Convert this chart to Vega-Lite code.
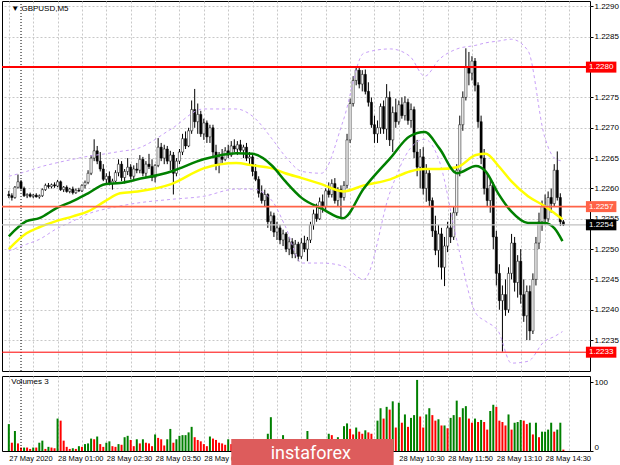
{
"$schema": "https://vega.github.io/schema/vega-lite/v6.json",
"padding": 0,
"background": "#ffffff",
"spacing": 3,
"resolve": {"scale": {"color": "independent", "stroke": "independent", "strokeWidth": "independent"}},
"config": {"view": {"stroke": "#000000", "strokeWidth": 1}, "font": "Liberation Sans"},
"datasets": {
"bars": [
{"i":0,"o":1.22590,"h":1.22596,"l":1.22584,"c":1.22588,"v":39,"d":"g"},
{"i":1,"o":1.22588,"h":1.22592,"l":1.22580,"c":1.22585,"v":12,"d":"r"},
{"i":2,"o":1.22585,"h":1.22604,"l":1.22583,"c":1.22602,"v":29,"d":"g"},
{"i":3,"o":1.22602,"h":1.22623,"l":1.22600,"c":1.22611,"v":11,"d":"r"},
{"i":4,"o":1.22611,"h":1.22614,"l":1.22598,"c":1.22600,"v":5,"d":"r"},
{"i":5,"o":1.22600,"h":1.22603,"l":1.22586,"c":1.22588,"v":5,"d":"g"},
{"i":6,"o":1.22588,"h":1.22592,"l":1.22584,"c":1.22590,"v":5,"d":"r"},
{"i":7,"o":1.22590,"h":1.22593,"l":1.22585,"c":1.22587,"v":3,"d":"r"},
{"i":8,"o":1.22587,"h":1.22591,"l":1.22584,"c":1.22589,"v":5,"d":"g"},
{"i":9,"o":1.22589,"h":1.22592,"l":1.22585,"c":1.22586,"v":5,"d":"r"},
{"i":10,"o":1.22586,"h":1.22590,"l":1.22583,"c":1.22588,"v":12,"d":"g"},
{"i":11,"o":1.22588,"h":1.22600,"l":1.22586,"c":1.22598,"v":15,"d":"g"},
{"i":12,"o":1.22598,"h":1.22608,"l":1.22596,"c":1.22605,"v":3,"d":"r"},
{"i":13,"o":1.22605,"h":1.22609,"l":1.22600,"c":1.22603,"v":6,"d":"g"},
{"i":14,"o":1.22603,"h":1.22608,"l":1.22600,"c":1.22606,"v":5,"d":"r"},
{"i":15,"o":1.22606,"h":1.22610,"l":1.22601,"c":1.22604,"v":4,"d":"r"},
{"i":16,"o":1.22604,"h":1.22614,"l":1.22602,"c":1.22611,"v":47,"d":"g"},
{"i":17,"o":1.22611,"h":1.22613,"l":1.22596,"c":1.22598,"v":44,"d":"r"},
{"i":18,"o":1.22598,"h":1.22604,"l":1.22594,"c":1.22602,"v":15,"d":"r"},
{"i":19,"o":1.22602,"h":1.22605,"l":1.22593,"c":1.22595,"v":6,"d":"r"},
{"i":20,"o":1.22595,"h":1.22601,"l":1.22592,"c":1.22599,"v":3,"d":"r"},
{"i":21,"o":1.22599,"h":1.22603,"l":1.22590,"c":1.22593,"v":4,"d":"g"},
{"i":22,"o":1.22593,"h":1.22600,"l":1.22591,"c":1.22597,"v":3,"d":"r"},
{"i":23,"o":1.22597,"h":1.22601,"l":1.22594,"c":1.22596,"v":7,"d":"g"},
{"i":24,"o":1.22596,"h":1.22607,"l":1.22594,"c":1.22605,"v":6,"d":"r"},
{"i":25,"o":1.22605,"h":1.22613,"l":1.22600,"c":1.22610,"v":10,"d":"g"},
{"i":26,"o":1.22610,"h":1.22630,"l":1.22607,"c":1.22625,"v":11,"d":"g"},
{"i":27,"o":1.22625,"h":1.22655,"l":1.22622,"c":1.22650,"v":18,"d":"g"},
{"i":28,"o":1.22650,"h":1.22681,"l":1.22645,"c":1.22662,"v":17,"d":"r"},
{"i":29,"o":1.22662,"h":1.22670,"l":1.22640,"c":1.22645,"v":21,"d":"g"},
{"i":30,"o":1.22645,"h":1.22660,"l":1.22628,"c":1.22632,"v":10,"d":"r"},
{"i":31,"o":1.22632,"h":1.22640,"l":1.22612,"c":1.22615,"v":6,"d":"r"},
{"i":32,"o":1.22615,"h":1.22625,"l":1.22606,"c":1.22620,"v":12,"d":"g"},
{"i":33,"o":1.22620,"h":1.22628,"l":1.22605,"c":1.22608,"v":14,"d":"g"},
{"i":34,"o":1.22608,"h":1.22616,"l":1.22598,"c":1.22612,"v":7,"d":"r"},
{"i":35,"o":1.22612,"h":1.22630,"l":1.22610,"c":1.22626,"v":6,"d":"r"},
{"i":36,"o":1.22626,"h":1.22648,"l":1.22620,"c":1.22640,"v":10,"d":"g"},
{"i":37,"o":1.22640,"h":1.22645,"l":1.22612,"c":1.22618,"v":9,"d":"r"},
{"i":38,"o":1.22618,"h":1.22632,"l":1.22608,"c":1.22628,"v":20,"d":"g"},
{"i":39,"o":1.22628,"h":1.22650,"l":1.22622,"c":1.22635,"v":22,"d":"g"},
{"i":40,"o":1.22635,"h":1.22640,"l":1.22615,"c":1.22620,"v":16,"d":"r"},
{"i":41,"o":1.22620,"h":1.22638,"l":1.22612,"c":1.22632,"v":7,"d":"r"},
{"i":42,"o":1.22632,"h":1.22642,"l":1.22625,"c":1.22630,"v":17,"d":"g"},
{"i":43,"o":1.22630,"h":1.22655,"l":1.22625,"c":1.22648,"v":11,"d":"r"},
{"i":44,"o":1.22648,"h":1.22652,"l":1.22620,"c":1.22625,"v":17,"d":"g"},
{"i":45,"o":1.22625,"h":1.22645,"l":1.22618,"c":1.22640,"v":12,"d":"r"},
{"i":46,"o":1.22640,"h":1.22657,"l":1.22632,"c":1.22636,"v":11,"d":"r"},
{"i":47,"o":1.22636,"h":1.22648,"l":1.22612,"c":1.22618,"v":7,"d":"r"},
{"i":48,"o":1.22618,"h":1.22640,"l":1.22610,"c":1.22638,"v":24,"d":"g"},
{"i":49,"o":1.22638,"h":1.22683,"l":1.22635,"c":1.22668,"v":19,"d":"r"},
{"i":50,"o":1.22668,"h":1.22675,"l":1.22645,"c":1.22650,"v":17,"d":"r"},
{"i":51,"o":1.22650,"h":1.22672,"l":1.22640,"c":1.22665,"v":8,"d":"r"},
{"i":52,"o":1.22665,"h":1.22670,"l":1.22640,"c":1.22645,"v":17,"d":"g"},
{"i":53,"o":1.22645,"h":1.22662,"l":1.22630,"c":1.22655,"v":32,"d":"g"},
{"i":54,"o":1.22655,"h":1.22660,"l":1.22590,"c":1.22625,"v":12,"d":"r"},
{"i":55,"o":1.22625,"h":1.22650,"l":1.22620,"c":1.22645,"v":17,"d":"g"},
{"i":56,"o":1.22645,"h":1.22665,"l":1.22640,"c":1.22660,"v":22,"d":"g"},
{"i":57,"o":1.22660,"h":1.22690,"l":1.22655,"c":1.22682,"v":23,"d":"g"},
{"i":58,"o":1.22682,"h":1.22694,"l":1.22665,"c":1.22670,"v":23,"d":"g"},
{"i":59,"o":1.22670,"h":1.22700,"l":1.22668,"c":1.22695,"v":27,"d":"g"},
{"i":60,"o":1.22695,"h":1.22745,"l":1.22690,"c":1.22730,"v":35,"d":"g"},
{"i":61,"o":1.22730,"h":1.22764,"l":1.22700,"c":1.22710,"v":20,"d":"r"},
{"i":62,"o":1.22710,"h":1.22740,"l":1.22690,"c":1.22722,"v":16,"d":"r"},
{"i":63,"o":1.22722,"h":1.22728,"l":1.22685,"c":1.22690,"v":14,"d":"r"},
{"i":64,"o":1.22690,"h":1.22715,"l":1.22680,"c":1.22708,"v":10,"d":"r"},
{"i":65,"o":1.22708,"h":1.22712,"l":1.22675,"c":1.22685,"v":7,"d":"r"},
{"i":66,"o":1.22685,"h":1.22705,"l":1.22675,"c":1.22700,"v":21,"d":"g"},
{"i":67,"o":1.22700,"h":1.22705,"l":1.22650,"c":1.22660,"v":18,"d":"r"},
{"i":68,"o":1.22660,"h":1.22672,"l":1.22630,"c":1.22640,"v":16,"d":"r"},
{"i":69,"o":1.22640,"h":1.22660,"l":1.22625,"c":1.22652,"v":12,"d":"r"},
{"i":70,"o":1.22652,"h":1.22665,"l":1.22640,"c":1.22648,"v":11,"d":"r"},
{"i":71,"o":1.22648,"h":1.22668,"l":1.22645,"c":1.22662,"v":9,"d":"r"},
{"i":72,"o":1.22662,"h":1.22672,"l":1.22650,"c":1.22655,"v":17,"d":"g"},
{"i":73,"o":1.22655,"h":1.22678,"l":1.22652,"c":1.22670,"v":10,"d":"r"},
{"i":74,"o":1.22670,"h":1.22681,"l":1.22660,"c":1.22665,"v":14,"d":"g"},
{"i":75,"o":1.22665,"h":1.22678,"l":1.22655,"c":1.22672,"v":8,"d":"r"},
{"i":76,"o":1.22672,"h":1.22680,"l":1.22660,"c":1.22663,"v":12,"d":"g"},
{"i":77,"o":1.22663,"h":1.22672,"l":1.22650,"c":1.22668,"v":9,"d":"r"},
{"i":78,"o":1.22668,"h":1.22675,"l":1.22645,"c":1.22650,"v":13,"d":"g"},
{"i":79,"o":1.22650,"h":1.22660,"l":1.22640,"c":1.22652,"v":7,"d":"r"},
{"i":80,"o":1.22652,"h":1.22655,"l":1.22620,"c":1.22628,"v":11,"d":"g"},
{"i":81,"o":1.22628,"h":1.22640,"l":1.22612,"c":1.22615,"v":9,"d":"r"},
{"i":82,"o":1.22615,"h":1.22620,"l":1.22585,"c":1.22592,"v":15,"d":"g"},
{"i":83,"o":1.22592,"h":1.22605,"l":1.22575,"c":1.22580,"v":12,"d":"r"},
{"i":84,"o":1.22580,"h":1.22598,"l":1.22570,"c":1.22590,"v":14,"d":"g"},
{"i":85,"o":1.22590,"h":1.22592,"l":1.22535,"c":1.22545,"v":25,"d":"g"},
{"i":86,"o":1.22545,"h":1.22562,"l":1.22530,"c":1.22555,"v":49,"d":"g"},
{"i":87,"o":1.22555,"h":1.22560,"l":1.22520,"c":1.22528,"v":15,"d":"r"},
{"i":88,"o":1.22528,"h":1.22545,"l":1.22515,"c":1.22535,"v":12,"d":"r"},
{"i":89,"o":1.22535,"h":1.22540,"l":1.22508,"c":1.22515,"v":10,"d":"r"},
{"i":90,"o":1.22515,"h":1.22532,"l":1.22505,"c":1.22525,"v":23,"d":"g"},
{"i":91,"o":1.22525,"h":1.22528,"l":1.22495,"c":1.22500,"v":14,"d":"r"},
{"i":92,"o":1.22500,"h":1.22520,"l":1.22490,"c":1.22512,"v":11,"d":"r"},
{"i":93,"o":1.22512,"h":1.22518,"l":1.22485,"c":1.22492,"v":13,"d":"g"},
{"i":94,"o":1.22492,"h":1.22515,"l":1.22485,"c":1.22508,"v":9,"d":"r"},
{"i":95,"o":1.22508,"h":1.22512,"l":1.22480,"c":1.22488,"v":12,"d":"g"},
{"i":96,"o":1.22488,"h":1.22518,"l":1.22484,"c":1.22510,"v":10,"d":"r"},
{"i":97,"o":1.22510,"h":1.22522,"l":1.22495,"c":1.22500,"v":14,"d":"g"},
{"i":98,"o":1.22500,"h":1.22520,"l":1.22480,"c":1.22515,"v":29,"d":"g"},
{"i":99,"o":1.22515,"h":1.22545,"l":1.22510,"c":1.22540,"v":12,"d":"r"},
{"i":100,"o":1.22540,"h":1.22565,"l":1.22532,"c":1.22558,"v":15,"d":"g"},
{"i":101,"o":1.22558,"h":1.22575,"l":1.22545,"c":1.22550,"v":10,"d":"r"},
{"i":102,"o":1.22550,"h":1.22585,"l":1.22548,"c":1.22578,"v":14,"d":"g"},
{"i":103,"o":1.22578,"h":1.22590,"l":1.22560,"c":1.22570,"v":11,"d":"r"},
{"i":104,"o":1.22570,"h":1.22600,"l":1.22565,"c":1.22596,"v":13,"d":"g"},
{"i":105,"o":1.22596,"h":1.22610,"l":1.22585,"c":1.22590,"v":25,"d":"g"},
{"i":106,"o":1.22590,"h":1.22615,"l":1.22585,"c":1.22608,"v":23,"d":"r"},
{"i":107,"o":1.22608,"h":1.22617,"l":1.22575,"c":1.22580,"v":12,"d":"r"},
{"i":108,"o":1.22580,"h":1.22602,"l":1.22570,"c":1.22598,"v":20,"d":"g"},
{"i":109,"o":1.22598,"h":1.22605,"l":1.22551,"c":1.22585,"v":15,"d":"r"},
{"i":110,"o":1.22585,"h":1.22612,"l":1.22580,"c":1.22605,"v":36,"d":"g"},
{"i":111,"o":1.22605,"h":1.22690,"l":1.22600,"c":1.22680,"v":40,"d":"g"},
{"i":112,"o":1.22680,"h":1.22748,"l":1.22675,"c":1.22740,"v":32,"d":"r"},
{"i":113,"o":1.22740,"h":1.22785,"l":1.22735,"c":1.22778,"v":24,"d":"r"},
{"i":114,"o":1.22778,"h":1.22800,"l":1.22770,"c":1.22795,"v":34,"d":"g"},
{"i":115,"o":1.22795,"h":1.22800,"l":1.22765,"c":1.22772,"v":28,"d":"r"},
{"i":116,"o":1.22772,"h":1.22795,"l":1.22760,"c":1.22788,"v":25,"d":"r"},
{"i":117,"o":1.22788,"h":1.22796,"l":1.22755,"c":1.22760,"v":30,"d":"g"},
{"i":118,"o":1.22760,"h":1.22775,"l":1.22735,"c":1.22742,"v":27,"d":"r"},
{"i":119,"o":1.22742,"h":1.22750,"l":1.22700,"c":1.22705,"v":25,"d":"r"},
{"i":120,"o":1.22705,"h":1.22720,"l":1.22675,"c":1.22690,"v":15,"d":"r"},
{"i":121,"o":1.22690,"h":1.22712,"l":1.22675,"c":1.22700,"v":44,"d":"g"},
{"i":122,"o":1.22700,"h":1.22740,"l":1.22690,"c":1.22735,"v":62,"d":"g"},
{"i":123,"o":1.22735,"h":1.22745,"l":1.22690,"c":1.22698,"v":47,"d":"r"},
{"i":124,"o":1.22698,"h":1.22772,"l":1.22680,"c":1.22750,"v":64,"d":"g"},
{"i":125,"o":1.22750,"h":1.22760,"l":1.22670,"c":1.22680,"v":60,"d":"r"},
{"i":126,"o":1.22680,"h":1.22735,"l":1.22660,"c":1.22725,"v":72,"d":"g"},
{"i":127,"o":1.22725,"h":1.22748,"l":1.22700,"c":1.22710,"v":34,"d":"r"},
{"i":128,"o":1.22710,"h":1.22745,"l":1.22705,"c":1.22738,"v":70,"d":"g"},
{"i":129,"o":1.22738,"h":1.22750,"l":1.22715,"c":1.22720,"v":41,"d":"r"},
{"i":130,"o":1.22720,"h":1.22752,"l":1.22712,"c":1.22742,"v":53,"d":"g"},
{"i":131,"o":1.22742,"h":1.22748,"l":1.22705,"c":1.22712,"v":35,"d":"r"},
{"i":132,"o":1.22712,"h":1.22740,"l":1.22700,"c":1.22730,"v":48,"d":"g"},
{"i":133,"o":1.22730,"h":1.22735,"l":1.22650,"c":1.22660,"v":52,"d":"g"},
{"i":134,"o":1.22660,"h":1.22680,"l":1.22620,"c":1.22635,"v":103,"d":"g"},
{"i":135,"o":1.22635,"h":1.22665,"l":1.22600,"c":1.22652,"v":50,"d":"r"},
{"i":136,"o":1.22652,"h":1.22668,"l":1.22590,"c":1.22600,"v":34,"d":"r"},
{"i":137,"o":1.22600,"h":1.22640,"l":1.22578,"c":1.22625,"v":53,"d":"g"},
{"i":138,"o":1.22625,"h":1.22632,"l":1.22570,"c":1.22580,"v":62,"d":"g"},
{"i":139,"o":1.22580,"h":1.22585,"l":1.22520,"c":1.22530,"v":52,"d":"r"},
{"i":140,"o":1.22530,"h":1.22555,"l":1.22490,"c":1.22498,"v":44,"d":"r"},
{"i":141,"o":1.22498,"h":1.22540,"l":1.22470,"c":1.22525,"v":46,"d":"g"},
{"i":142,"o":1.22525,"h":1.22535,"l":1.22450,"c":1.22470,"v":37,"d":"r"},
{"i":143,"o":1.22470,"h":1.22520,"l":1.22439,"c":1.22505,"v":37,"d":"g"},
{"i":144,"o":1.22505,"h":1.22545,"l":1.22495,"c":1.22535,"v":33,"d":"r"},
{"i":145,"o":1.22535,"h":1.22560,"l":1.22510,"c":1.22520,"v":48,"d":"g"},
{"i":146,"o":1.22520,"h":1.22570,"l":1.22515,"c":1.22560,"v":52,"d":"g"},
{"i":147,"o":1.22560,"h":1.22640,"l":1.22555,"c":1.22630,"v":73,"d":"g"},
{"i":148,"o":1.22630,"h":1.22720,"l":1.22620,"c":1.22705,"v":49,"d":"r"},
{"i":149,"o":1.22705,"h":1.22760,"l":1.22695,"c":1.22750,"v":62,"d":"g"},
{"i":150,"o":1.22750,"h":1.22831,"l":1.22745,"c":1.22800,"v":65,"d":"g"},
{"i":151,"o":1.22800,"h":1.22825,"l":1.22770,"c":1.22790,"v":47,"d":"r"},
{"i":152,"o":1.22790,"h":1.22818,"l":1.22778,"c":1.22810,"v":41,"d":"r"},
{"i":153,"o":1.22810,"h":1.22815,"l":1.22760,"c":1.22770,"v":47,"d":"g"},
{"i":154,"o":1.22770,"h":1.22775,"l":1.22700,"c":1.22710,"v":42,"d":"r"},
{"i":155,"o":1.22710,"h":1.22720,"l":1.22640,"c":1.22650,"v":45,"d":"g"},
{"i":156,"o":1.22650,"h":1.22665,"l":1.22590,"c":1.22600,"v":42,"d":"r"},
{"i":157,"o":1.22600,"h":1.22625,"l":1.22570,"c":1.22580,"v":31,"d":"r"},
{"i":158,"o":1.22580,"h":1.22618,"l":1.22560,"c":1.22605,"v":58,"d":"g"},
{"i":159,"o":1.22605,"h":1.22610,"l":1.22500,"c":1.22520,"v":67,"d":"g"},
{"i":160,"o":1.22520,"h":1.22530,"l":1.22440,"c":1.22460,"v":64,"d":"r"},
{"i":161,"o":1.22460,"h":1.22475,"l":1.22400,"c":1.22415,"v":44,"d":"r"},
{"i":162,"o":1.22415,"h":1.22440,"l":1.22331,"c":1.22425,"v":42,"d":"r"},
{"i":163,"o":1.22425,"h":1.22450,"l":1.22390,"c":1.22400,"v":37,"d":"r"},
{"i":164,"o":1.22400,"h":1.22470,"l":1.22395,"c":1.22460,"v":53,"d":"g"},
{"i":165,"o":1.22460,"h":1.22525,"l":1.22450,"c":1.22510,"v":31,"d":"r"},
{"i":166,"o":1.22510,"h":1.22520,"l":1.22430,"c":1.22445,"v":41,"d":"g"},
{"i":167,"o":1.22445,"h":1.22490,"l":1.22420,"c":1.22480,"v":42,"d":"g"},
{"i":168,"o":1.22480,"h":1.22500,"l":1.22410,"c":1.22425,"v":45,"d":"g"},
{"i":169,"o":1.22425,"h":1.22450,"l":1.22380,"c":1.22390,"v":44,"d":"r"},
{"i":170,"o":1.22390,"h":1.22440,"l":1.22350,"c":1.22430,"v":39,"d":"r"},
{"i":171,"o":1.22430,"h":1.22440,"l":1.22350,"c":1.22365,"v":41,"d":"g"},
{"i":172,"o":1.22365,"h":1.22460,"l":1.22360,"c":1.22450,"v":24,"d":"r"},
{"i":173,"o":1.22450,"h":1.22520,"l":1.22440,"c":1.22510,"v":41,"d":"g"},
{"i":174,"o":1.22510,"h":1.22560,"l":1.22500,"c":1.22545,"v":20,"d":"r"},
{"i":175,"o":1.22545,"h":1.22580,"l":1.22530,"c":1.22570,"v":28,"d":"g"},
{"i":176,"o":1.22570,"h":1.22590,"l":1.22540,"c":1.22550,"v":28,"d":"g"},
{"i":177,"o":1.22550,"h":1.22595,"l":1.22545,"c":1.22585,"v":31,"d":"g"},
{"i":178,"o":1.22585,"h":1.22600,"l":1.22560,"c":1.22575,"v":41,"d":"g"},
{"i":179,"o":1.22575,"h":1.22640,"l":1.22570,"c":1.22630,"v":28,"d":"r"},
{"i":180,"o":1.22630,"h":1.22661,"l":1.22580,"c":1.22585,"v":31,"d":"g"},
{"i":181,"o":1.22585,"h":1.22592,"l":1.22538,"c":1.22545,"v":41,"d":"g"},
{"i":182,"o":1.22545,"h":1.22548,"l":1.22538,"c":1.22540,"v":2,"d":"r"}
],
"ind": [
{"i":0,"g":1.22521,"y":1.22500,"u":1.22620,"l":1.22497},
{"i":5.8,"g":1.22546,"y":1.22526,"u":1.22628,"l":1.22508},
{"i":10,"g":1.22551,"y":1.22536,"u":1.22635,"l":1.22516},
{"i":15.5,"g":1.22567,"y":1.22546,"u":1.22642,"l":1.22533},
{"i":21,"g":1.22579,"y":1.22554,"u":1.22648,"l":1.22546},
{"i":26,"g":1.22592,"y":1.22562,"u":1.22653,"l":1.22558},
{"i":31.6,"g":1.22607,"y":1.22579,"u":1.22657,"l":1.22566},
{"i":36.5,"g":1.22609,"y":1.22592,"u":1.22661,"l":1.22571},
{"i":42.3,"g":1.22615,"y":1.22595,"u":1.22666,"l":1.22576},
{"i":53.3,"g":1.22628,"y":1.22607,"u":1.22698,"l":1.22582},
{"i":63.9,"g":1.22648,"y":1.22633,"u":1.22731,"l":1.22587},
{"i":74.6,"g":1.22658,"y":1.22642,"u":1.22731,"l":1.22599},
{"i":80,"g":1.22657,"y":1.22638,"u":1.22719,"l":1.22599},
{"i":86.5,"g":1.22637,"y":1.22633,"u":1.22681,"l":1.22579},
{"i":90.7,"g":1.22612,"y":1.22625,"u":1.22653,"l":1.22538},
{"i":96.2,"g":1.22584,"y":1.22617,"u":1.22628,"l":1.22477},
{"i":102.6,"g":1.22567,"y":1.22607,"u":1.22625,"l":1.22477},
{"i":109.7,"g":1.22551,"y":1.22595,"u":1.22711,"l":1.22472},
{"i":116.5,"g":1.22600,"y":1.22605,"u":1.22823,"l":1.22450},
{"i":125.2,"g":1.22650,"y":1.22615,"u":1.22830,"l":1.22595},
{"i":131.6,"g":1.22686,"y":1.22628,"u":1.22818,"l":1.22665},
{"i":136.5,"g":1.22693,"y":1.22632,"u":1.22785,"l":1.22681},
{"i":141.3,"g":1.22666,"y":1.22632,"u":1.22813,"l":1.22645},
{"i":147.1,"g":1.22625,"y":1.22635,"u":1.22830,"l":1.22513},
{"i":153.3,"g":1.22637,"y":1.22655,"u":1.22836,"l":1.22394},
{"i":156.5,"g":1.22628,"y":1.22657,"u":1.22840,"l":1.22381},
{"i":160.7,"g":1.22591,"y":1.22637,"u":1.22843,"l":1.22364},
{"i":164.9,"g":1.22562,"y":1.22612,"u":1.22846,"l":1.22312},
{"i":170.4,"g":1.22543,"y":1.22587,"u":1.22827,"l":1.22315},
{"i":175.8,"g":1.22543,"y":1.22571,"u":1.22686,"l":1.22348},
{"i":179.1,"g":1.22534,"y":1.22559,"u":1.22650,"l":1.22356},
{"i":181.7,"g":1.22513,"y":1.22549,"u":1.22645,"l":1.22364}
],
"lev": [
{"p":1.2280,"k":"r1"},
{"p":1.2257,"k":"ask"},
{"p":1.2254,"k":"bid"},
{"p":1.2233,"k":"r2"}
]
},
"vconcat": [
{
"width": 588,
"height": 370,
"layer": [
{"data":{"name":"bars"},"mark":{"type":"rule","color":"#000000","strokeWidth":1},
 "encoding":{
  "x":{"field":"i","type":"quantitative","title":null,"scale":{"domain":[-0.6,189.1],"nice":false,"zero":false},
       "axis":{"values":[0,8,16,24,32,40,48,56,64,72,80,88,96,104,112,120,128,136,144,152,160,168,176,184],"tickCount":40,"labels":false,"ticks":false,"domain":false,"grid":true,"gridColor":"#c8c8c8","gridDash":[2,2],"gridWidth":1,"title":null}},
  "y":{"field":"l","type":"quantitative","title":null,"scale":{"domain":[1.22299,1.22909],"nice":false,"zero":false},
       "axis":{"orient":"right","values":[1.2235,1.224,1.2245,1.225,1.2255,1.226,1.2265,1.227,1.2275,1.2285,1.229],"tickCount":30,"format":".4f","domain":false,"ticks":true,"tickSize":3,"tickColor":"#000000","labels":true,"labelOverlap":false,"labelPadding":1,"labelFont":"Liberation Sans","labelFontSize":8,"labelColor":"#000000","grid":true,"gridColor":"#c8c8c8","gridDash":[2,2],"title":null}},
  "y2":{"field":"h"}}},
{"data":{"values":[{"s":4}]},"mark":{"type":"rule","color":"#000000","strokeDash":[1,2],"strokeWidth":1},
 "encoding":{"x":{"field":"s","type":"quantitative","title":null}}},
{"data":{"name":"bars"},"mark":{"type":"bar","size":2.2,"stroke":"#000000","strokeWidth":0.5},
 "encoding":{
  "x":{"field":"i","type":"quantitative","title":null},
  "y":{"field":"o","type":"quantitative","title":null},
  "y2":{"field":"c"},
  "fill":{"condition":{"test":"datum.c < datum.o","value":"#000000"},"value":"#ffffff"}}},
{"data":{"name":"ind"},"mark":{"type":"line","color":"#c8a0f8","strokeWidth":1,"strokeDash":[3,3],"interpolate":"monotone"},
 "encoding":{"x":{"field":"i","type":"quantitative","title":null},"y":{"field":"u","type":"quantitative","title":null}}},
{"data":{"name":"ind"},"mark":{"type":"line","color":"#c8a0f8","strokeWidth":1,"strokeDash":[3,3],"interpolate":"monotone"},
 "encoding":{"x":{"field":"i","type":"quantitative","title":null},"y":{"field":"l","type":"quantitative","title":null}}},
{"data":{"name":"ind"},"mark":{"type":"line","color":"#ffff00","strokeWidth":2.5,"interpolate":"monotone"},
 "encoding":{"x":{"field":"i","type":"quantitative","title":null},"y":{"field":"y","type":"quantitative","title":null}}},
{"data":{"name":"ind"},"mark":{"type":"line","color":"#008000","strokeWidth":2.5,"interpolate":"monotone"},
 "encoding":{"x":{"field":"i","type":"quantitative","title":null},"y":{"field":"g","type":"quantitative","title":null}}},
{"data":{"name":"lev"},"mark":{"type":"rule"},
 "encoding":{
  "y":{"field":"p","type":"quantitative","title":null},
  "stroke":{"field":"k","type":"nominal","scale":{"domain":["r1","ask","bid","r2"],"range":["#ff0000","#ff6347","#c0c0c0","#ff0000"]},"legend":null},
  "strokeWidth":{"field":"k","type":"ordinal","scale":{"domain":["r1","ask","bid","r2"],"range":[2,1,1,2]},"legend":null}}},
{"data":{"name":"lev"},"mark":{"type":"rule","strokeWidth":11},
 "encoding":{
  "x":{"datum":189.4,"type":"quantitative"},
  "x2":{"datum":199.4},
  "y":{"field":"p","type":"quantitative","title":null},
  "color":{"field":"k","type":"nominal","scale":{"domain":["r1","ask","bid","r2"],"range":["#ff0000","#ff6347","#000000","#ff0000"]},"legend":null}}},
{"data":{"name":"lev"},"mark":{"type":"text","align":"left","baseline":"middle","color":"#ffffff","fontSize":8,"font":"Liberation Sans"},
 "encoding":{
  "x":{"datum":190.4,"type":"quantitative"},
  "y":{"field":"p","type":"quantitative","title":null},
  "text":{"field":"p","type":"quantitative","format":".4f"}}},
{"data":{"values":[{"t":"▼ GBPUSD,M5"}]},"mark":{"type":"text","align":"left","baseline":"middle","fontSize":8,"font":"Liberation Sans","color":"#000000"},
 "encoding":{
  "x":{"datum":0.8,"type":"quantitative"},
  "y":{"datum":1.22895,"type":"quantitative"},
  "text":{"field":"t"}}}
]
},
{
"width": 588,
"height": 75,
"layer": [
{"data":{"name":"bars"},"mark":{"type":"bar","size":2},
 "encoding":{
  "x":{"field":"i","type":"quantitative","title":null,"scale":{"domain":[-0.6,189.1],"nice":false,"zero":false},
       "axis":{"values":[0,8,16,24,32,40,48,56,64,72,80,88,96,104,112,120,128,136,144,152,160,168,176,184],"tickCount":40,
               "labelExpr":"datum.value % 16 == 0 ? ['27 May 2020','28 May 01:00','28 May 02:30','28 May 03:50','28 May 05:10','','','','28 May 10:30','28 May 11:50','28 May 13:10','28 May 14:30'][datum.value / 16] : ''",
               "labels":true,"labelAlign":"left","labelBaseline":"top","labelPadding":3,"labelFontSize":7.5,"labelFont":"Liberation Sans","labelColor":"#000000","labelOverlap":false,"labelFlush":false,"labelBound":false,
               "ticks":false,"domain":false,"grid":true,"gridColor":"#c8c8c8","gridDash":[2,2],"title":null}},
  "y":{"field":"v","type":"quantitative","title":null,"scale":{"domain":[0,108.7],"nice":false,"zero":true},
       "axis":{"orient":"right","values":[0,100],"tickCount":10,"domain":false,"ticks":true,"tickSize":3,"tickColor":"#000000","labels":true,"labelPadding":1,"labelFontSize":8,"labelFont":"Liberation Sans","labelColor":"#000000","labelFlush":true,"grid":false,"title":null}},
  "color":{"field":"d","type":"nominal","scale":{"domain":["g","r"],"range":["#008000","#ff0000"]},"legend":null}}},
{"data":{"values":[{"s":4}]},"mark":{"type":"rule","color":"#000000","strokeDash":[1,2],"strokeWidth":1},
 "encoding":{"x":{"field":"s","type":"quantitative","title":null}}},
{"data":{"values":[{"t":"Volumes 3"}]},"mark":{"type":"text","align":"left","baseline":"middle","fontSize":8,"font":"Liberation Sans","color":"#000000"},
 "encoding":{
  "x":{"datum":0.8,"type":"quantitative"},
  "y":{"datum":100,"type":"quantitative"},
  "text":{"field":"t"}}},
{"data":{"values":[{"t":"logo"}]},"mark":{"type":"rect","color":"#dd5c5c"},
 "encoding":{
  "x":{"datum":73.0,"type":"quantitative"},
  "x2":{"datum":126.3},
  "y":{"datum":17.4,"type":"quantitative"},
  "y2":{"datum":-24.6}}},
{"data":{"values":[{"t":"instaforex"}]},"mark":{"type":"text","align":"center","baseline":"alphabetic","font":"Roboto","fontSize":18,"color":"#ffffff"},
 "encoding":{
  "x":{"datum":99.1,"type":"quantitative"},
  "y":{"datum":-11.2,"type":"quantitative"},
  "text":{"field":"t"}}}
]
}
]
}
